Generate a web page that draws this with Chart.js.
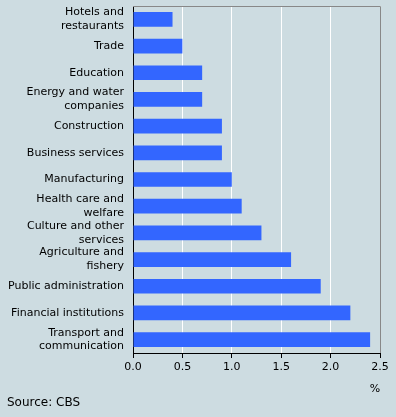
<!DOCTYPE html>
<html>
<head>
<meta charset="utf-8">
<script src="https://cdn.jsdelivr.net/npm/chart.js@4"></script>
<style>
  html, body { margin: 0; padding: 0; background: #cddce1; }
  #wrap { width: 396px; height: 417px; }
</style>
</head>
<body>
<div id="wrap"><canvas id="grafico"></canvas></div>
<script>
const sectors = [
  ['Hotels and', 'restaurants'],
  'Trade',
  'Education',
  ['Energy and water', 'companies'],
  'Construction',
  'Business services',
  'Manufacturing',
  ['Health care and', 'welfare'],
  ['Culture and other', 'services'],
  ['Agriculture and', 'fishery'],
  'Public administration',
  'Financial institutions',
  ['Transport and', 'communication']
];
const shares = [0.4, 0.5, 0.7, 0.7, 0.9, 0.9, 1.0, 1.1, 1.3, 1.6, 1.9, 2.2, 2.4];
const xTicks = [0, 0.5, 1, 1.5, 2, 2.5];

const fontFamily = '"DejaVu Sans", Verdana, sans-serif';

const extras = {
  id: 'extras',
  afterDraw(chart) {
    const c = chart.ctx;
    const a = chart.chartArea;
    c.save();
    c.strokeStyle = '#888888';
    c.lineWidth = 1;
    c.beginPath();
    c.moveTo(a.left, a.top + 0.5);
    c.lineTo(a.right + 0.5, a.top + 0.5);
    c.lineTo(a.right + 0.5, a.bottom);
    c.stroke();
    c.fillStyle = '#000';
    c.font = '11px ' + fontFamily;
    c.textBaseline = 'middle';
    c.textAlign = 'center';
    c.fillText('%', 375, 389);
    c.textAlign = 'left';
    c.font = '12px ' + fontFamily;
    c.fillText('Source: CBS', 7, 403);
    c.restore();
  }
};

new Chart(document.getElementById('grafico'), {
  type: 'bar',
  data: {
    labels: sectors,
    datasets: [{
      data: shares,
      backgroundColor: '#3366ff',
      barPercentage: 0.55,
      categoryPercentage: 1
    }]
  },
  options: {
    indexAxis: 'y',
    responsive: true,
    maintainAspectRatio: false,
    animation: false,
    layout: { padding: { top: 6, right: 16, left: 0, bottom: 0 } },
    scales: {
      x: {
        min: 0,
        max: 2.5,
        afterBuildTicks(axis) { axis.ticks = xTicks.map(v => ({ value: v })); },
        afterFit(axis) {
          axis.height = 64;
          axis.paddingLeft = 0;
          axis.paddingRight = 0;
        },
        grid: {
          color: '#ffffff',
          tickColor: '#000000',
          tickLength: 5,
          drawOnChartArea: true
        },
        border: { color: '#000000' },
        ticks: {
          color: '#000',
          padding: 3,
          font: { family: fontFamily, size: 11 },
          callback: v => v.toFixed(1)
        }
      },
      y: {
        afterFit(axis) {
          axis.width = 133;
          axis.paddingTop = 0;
          axis.paddingBottom = 0;
        },
        grid: { display: false, drawTicks: false },
        border: { color: '#000000' },
        ticks: {
          color: '#000',
          padding: 9,
          autoSkip: false,
          font: { family: fontFamily, size: 11, lineHeight: 1.27 }
        }
      }
    },
    plugins: {
      legend: { display: false },
      tooltip: { enabled: false }
    }
  },
  plugins: [extras]
});
</script>
</body>
</html>
